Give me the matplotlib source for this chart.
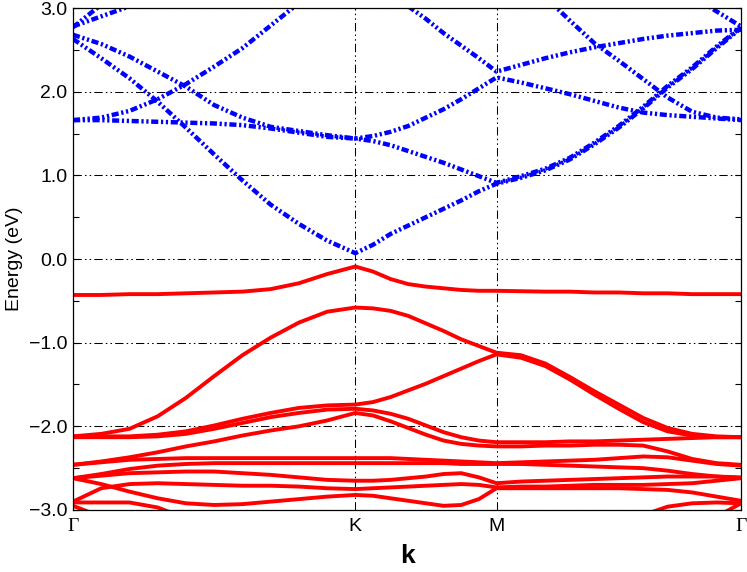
import numpy as np
import matplotlib.pyplot as plt
from matplotlib.ticker import MultipleLocator, FuncFormatter

plt.rcParams['font.family'] = ['Liberation Sans', 'DejaVu Sans']

# k-path Γ-K-M-Γ (hexagonal BZ, Γ-K = 1)
kK = 1.0
kM = 1.5
kG = 1.5 + np.sqrt(3) / 2
k = np.concatenate([np.linspace(0, kK, 11),
                    np.linspace(kK, kM, 9)[1:],
                    np.linspace(kM, kG, 11)[1:]])

nan = np.nan
tick_pos = [0, kK, kM, kG]
tick_lab = ['Γ', 'K', 'M', 'Γ']

# conduction bands (eV), Γ-K | K-M | M-Γ
c1 = [2.63, 2.40, 2.16, 1.88, 1.57, 1.25, 0.94, 0.65, 0.42, 0.22, 0.07,
      0.17, 0.30, 0.40, 0.50, 0.60, 0.70, 0.81, 0.90,
      0.97, 1.06, 1.19, 1.37, 1.57, 1.80, 2.05, 2.27, 2.52, 2.76]
c2 = [2.68, 2.57, 2.42, 2.24, 2.06, 1.84, 1.69, 1.58, 1.53, 1.48, 1.44,
      1.41, 1.36, 1.29, 1.22, 1.15, 1.07, 0.99, 0.91,
      0.99, 1.08, 1.21, 1.39, 1.59, 1.82, 2.07, 2.29, 2.54, 2.77]
c3 = [1.66, 1.66, 1.65, 1.64, 1.63, 1.62, 1.60, 1.56, 1.51, 1.46, 1.44,
      1.47, 1.52, 1.59, 1.69, 1.79, 1.91, 2.04, 2.17,
      2.11, 2.04, 1.97, 1.89, 1.81, 1.75, 1.72, 1.70, 1.68, 1.66]
c4 = [1.66, 1.69, 1.77, 1.91, 2.09, 2.30, 2.52, 2.79, 3.06, nan, nan,
      nan, nan, nan, nan, nan, nan, nan, nan,
      nan, nan, nan, nan, nan, nan, nan, nan, nan, nan]
c5 = [nan, nan, nan, nan, nan, nan, nan, nan, nan, nan, nan,
      nan, nan, 3.02, 2.87, 2.70, 2.55, 2.40, 2.24,
      2.32, 2.40, 2.47, 2.53, 2.58, 2.63, 2.67, 2.70, 2.73, 2.74]
c6 = [nan, nan, nan, nan, nan, nan, nan, nan, nan, nan, nan,
      nan, nan, nan, nan, nan, nan, nan, nan,
      nan, 3.13, 2.85, 2.58, 2.37, 2.15, 1.93, 1.76, 1.69, 1.67]
c7 = [nan, nan, nan, nan, nan, nan, nan, nan, nan, nan, nan,
      nan, nan, nan, nan, nan, nan, nan, nan,
      nan, nan, nan, nan, nan, nan, nan, 3.14, 2.96, 2.78]
c8 = [2.77, 3.04, nan, nan, nan, nan, nan, nan, nan, nan, nan,
      nan, nan, nan, nan, nan, nan, nan, nan,
      nan, nan, nan, nan, nan, nan, nan, nan, nan, nan]
c9 = [2.78, 2.90, 3.02, nan, nan, nan, nan, nan, nan, nan, nan,
      nan, nan, nan, nan, nan, nan, nan, nan,
      nan, nan, nan, nan, nan, nan, nan, nan, nan, nan]

# valence bands (eV)
v1 = [-0.43, -0.43, -0.42, -0.42, -0.41, -0.40, -0.39, -0.36, -0.29, -0.18, -0.09,
      -0.15, -0.24, -0.30, -0.33, -0.35, -0.37, -0.38, -0.38,
      -0.385, -0.39, -0.39, -0.40, -0.40, -0.41, -0.41, -0.42, -0.42, -0.42]
v2 = [-2.12, -2.09, -2.03, -1.88, -1.66, -1.40, -1.15, -0.94, -0.76, -0.63, -0.58,
      -0.59, -0.62, -0.68, -0.77, -0.86, -0.96, -1.04, -1.12,
      -1.15, -1.25, -1.41, -1.58, -1.74, -1.90, -2.02, -2.09, -2.12, -2.13]
v3 = [-2.12, -2.12, -2.12, -2.10, -2.06, -1.99, -1.91, -1.84, -1.78, -1.75, -1.74,
      -1.71, -1.65, -1.57, -1.49, -1.40, -1.31, -1.22, -1.14,
      -1.18, -1.28, -1.44, -1.62, -1.79, -1.95, -2.06, -2.11, -2.13, -2.13]
v4 = [-2.13, -2.13, -2.13, -2.12, -2.09, -2.03, -1.96, -1.89, -1.84, -1.80, -1.79,
      -1.81, -1.85, -1.91, -1.99, -2.07, -2.13, -2.17, -2.19,
      -2.19, -2.19, -2.18, -2.18, -2.17, -2.16, -2.15, -2.14, -2.13, -2.13]
v5 = [-2.46, -2.42, -2.37, -2.31, -2.24, -2.18, -2.11, -2.05, -2.00, -1.93, -1.84,
      -1.87, -1.94, -2.02, -2.10, -2.17, -2.21, -2.23, -2.24,
      -2.24, -2.23, -2.23, -2.22, -2.22, -2.23, -2.30, -2.39, -2.44, -2.46]
v6 = [-2.46, -2.43, -2.40, -2.39, -2.38, -2.38, -2.38, -2.38, -2.38, -2.38, -2.38,
      -2.38, -2.38, -2.39, -2.40, -2.41, -2.42, -2.43, -2.44,
      -2.43, -2.42, -2.41, -2.40, -2.38, -2.36, -2.37, -2.41, -2.45, -2.47]
v7 = [-2.62, -2.57, -2.51, -2.47, -2.45, -2.44, -2.44, -2.44, -2.44, -2.44, -2.44,
      -2.44, -2.44, -2.44, -2.44, -2.44, -2.45, -2.45, -2.45,
      -2.45, -2.46, -2.47, -2.48, -2.49, -2.50, -2.53, -2.57, -2.60, -2.62]
v8 = [-2.90, -2.74, -2.69, -2.68, -2.69, -2.70, -2.71, -2.71, -2.72, -2.74, -2.75,
      -2.74, -2.73, -2.72, -2.71, -2.70, -2.69, -2.70, -2.73,
      -2.72, -2.72, -2.71, -2.70, -2.70, -2.70, -2.69, -2.68, -2.65, -2.62]
v9 = [-2.62, -2.59, -2.56, -2.55, -2.54, -2.54, -2.56, -2.58, -2.61, -2.64, -2.65,
      -2.65, -2.64, -2.62, -2.60, -2.57, -2.56, -2.61, -2.68,
      -2.66, -2.65, -2.64, -2.63, -2.62, -2.61, -2.60, -2.60, -2.60, -2.61]
v10 = [-2.62, -2.69, -2.78, -2.86, -2.92, -2.94, -2.93, -2.90, -2.87, -2.84, -2.82,
       -2.83, -2.86, -2.89, -2.92, -2.95, -2.94, -2.87, -2.74,
       -2.74, -2.74, -2.74, -2.74, -2.74, -2.75, -2.76, -2.79, -2.84, -2.89]
v11 = [-2.91, -2.91, -2.91, -2.97, -3.10, nan, nan, nan, nan, nan, nan,
       nan, nan, nan, nan, nan, nan, nan, nan,
       nan, nan, nan, nan, nan, -3.06, -2.96, -2.92, -2.91, -2.92]
v12 = [-2.95, -3.08, nan, nan, nan, nan, nan, nan, nan, nan, nan,
       nan, nan, nan, nan, nan, nan, nan, nan,
       nan, nan, nan, nan, nan, nan, nan, nan, -3.08, -2.92]

conduction = [c1, c2, c3, c4, c5, c6, c7, c8, c9]
valence = [v1, v2, v3, v4, v5, v6, v7, v8, v9, v10, v11, v12]

fig, ax = plt.subplots(figsize=(7.47, 5.72), dpi=100)
fig.subplots_adjust(left=0.0977, right=0.992, top=0.986, bottom=0.1084)

for e in valence:
    ax.plot(k, e, color='#ff0000', lw=2.8, solid_joinstyle='round', zorder=3)
for e in conduction:
    ax.plot(k, e, color='#0000ff', lw=3.2, dashes=(1.6, 0.6, 0.5, 0.6, 0.5, 0.6),
            dash_capstyle='butt', zorder=4)

ax.set_xlim(0, kG)
ax.set_ylim(-3, 3)
ax.set_xticks(tick_pos)
ax.set_xticklabels(tick_lab, fontsize=14)
for lab in ax.get_xticklabels():
    if lab.get_text() == 'Γ':
        lab.set_fontfamily('Liberation Serif')

ax.yaxis.set_major_locator(MultipleLocator(1.0))
ax.yaxis.set_minor_locator(MultipleLocator(0.5))
ax.yaxis.set_major_formatter(FuncFormatter(lambda v, _: f'{v:.1f}'.replace('-', '\u2212')))
ax.tick_params(axis='y', which='both', direction='in', left=True, right=True,
               length=4, width=0.8, labelsize=14, pad=4)
ax.tick_params(axis='x', length=0, pad=6)

ax.grid(True, which='major', color='black', lw=0.75,
        linestyle=(0, (8, 3, 1.5, 3, 1.5, 3)))
ax.set_axisbelow(True)
for s in ax.spines.values():
    s.set_linewidth(0.9)
    s.set_zorder(5)

ax.set_ylabel('Energy (eV)', fontsize=14, labelpad=4)
ax.set_xlabel('k', fontsize=19, fontweight='bold', labelpad=6)

fig.savefig('out.png', dpi=100)
